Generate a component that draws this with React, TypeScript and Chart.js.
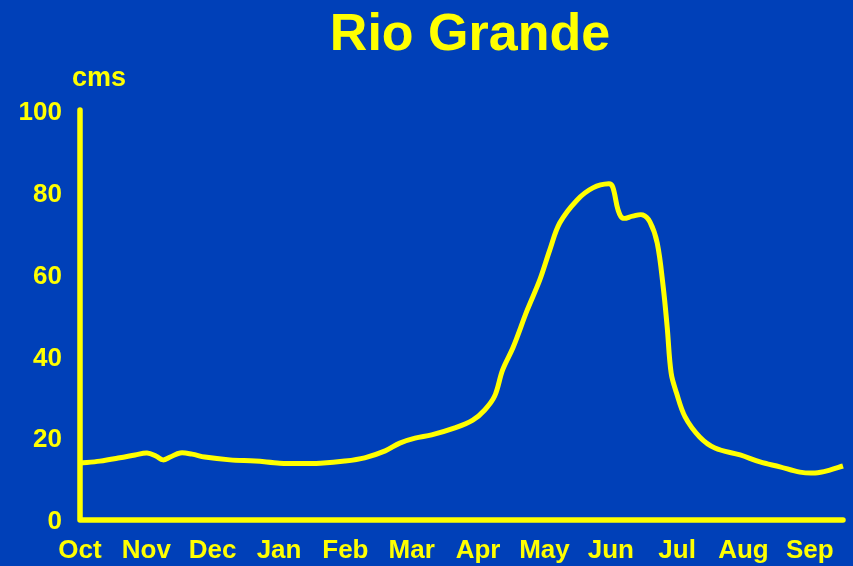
import React, { useEffect, useRef } from "react";
import { Chart, registerables } from "chart.js";

Chart.register(...registerables);

const TITLE = "Rio Grande";
const UNIT_LABEL = "cms";
const MONTHS = ["Oct", "Nov", "Dec", "Jan", "Feb", "Mar", "Apr", "May", "Jun", "Jul", "Aug", "Sep"];
const Y_TICKS = [0, 20, 40, 60, 80, 100];

// position along the water year, in months from the start of October
const FLOW_T = [
  0, 0.3, 0.6, 0.83, 1.01, 1.15, 1.25, 1.36, 1.51, 1.69, 1.88, 2.26, 2.64, 3.01, 3.32, 3.62, 3.99,
  4.29, 4.6, 4.82, 5.05, 5.3, 5.65, 5.92, 6.1, 6.25, 6.37, 6.53, 6.74, 6.93, 7.08, 7.23, 7.49,
  7.73, 7.97, 8.03, 8.11, 8.18, 8.33, 8.48, 8.59, 8.7, 8.79, 8.85, 8.91, 8.99, 9.12, 9.34, 9.57,
  9.95, 10.25, 10.55, 10.85, 11.08, 11.3, 11.5,
];
// discharge in cms
const FLOW_CMS = [
  13.9, 14.4, 15.2, 15.9, 16.4, 15.6, 14.7, 15.4, 16.4, 16.1, 15.4, 14.7, 14.4, 13.9, 13.8, 13.9, 14.4,
  15.2, 16.9, 18.8, 20.0, 20.8, 22.5, 24.4, 26.9, 30.3, 36.7, 42.3, 51.3, 58.7, 66.0, 72.6, 78.2,
  81.2, 82.2, 81.4, 75.8, 73.8, 74.3, 74.6, 72.9, 67.7, 57.0, 47.2, 35.9, 31.1, 25.2, 20.3, 17.6,
  15.9, 14.2, 13.0, 11.7, 11.5, 12.2, 13.2,
];

const BG = "#0040B8";
const FG = "#FFFF00";
const FONT = "'Liberation Sans', Arial, Helvetica, sans-serif";

export default function App() {
  const ref = useRef<HTMLCanvasElement | null>(null);

  useEffect(() => {
    const canvas = ref.current;
    if (!canvas) return;

    const decor = {
      id: "decor",
      beforeDatasetsDraw(chart: any) {
        const { ctx } = chart;
        const xs = chart.scales.x;
        const ys = chart.scales.y;
        const x0 = xs.getPixelForValue(0);
        const x1 = xs.getPixelForValue(11.5);
        const yTop = ys.getPixelForValue(100) - 1;
        const yBot = ys.getPixelForValue(0);
        ctx.save();
        ctx.strokeStyle = FG;
        ctx.lineWidth = 5.5;
        ctx.lineCap = "round";
        ctx.lineJoin = "round";
        ctx.beginPath();
        ctx.moveTo(x0, yTop);
        ctx.lineTo(x0, yBot);
        ctx.lineTo(x1, yBot);
        ctx.stroke();
        ctx.restore();
      },
      afterDraw(chart: any) {
        const { ctx } = chart;
        ctx.save();
        ctx.fillStyle = FG;
        ctx.textBaseline = "alphabetic";
        ctx.textAlign = "center";
        ctx.font = `bold 52px ${FONT}`;
        ctx.fillText(TITLE, 470, 50);
        ctx.textAlign = "left";
        ctx.font = `bold 27px ${FONT}`;
        ctx.fillText(UNIT_LABEL, 72, 86);
        ctx.restore();
      },
    };

    const chart = new Chart(canvas, {
      type: "line",
      data: {
        datasets: [
          {
            data: FLOW_T.map((t, i) => ({ x: t, y: FLOW_CMS[i] })),
            borderColor: FG,
            borderWidth: 5,
            pointRadius: 0,
            tension: 0.35,
            fill: false,
            clip: false as any,
          },
        ],
      },
      options: {
        responsive: false,
        animation: false,
        layout: { padding: { top: 111, right: 10, left: 0, bottom: 0 } },
        plugins: { legend: { display: false }, title: { display: false }, tooltip: { enabled: false } },
        scales: {
          x: {
            type: "linear",
            min: 0,
            max: 11.5,
            grid: { display: false, drawTicks: false },
            border: { display: false },
            afterFit: (s: any) => {
              s.height = 46;
            },
            afterBuildTicks: (s: any) => {
              s.ticks = MONTHS.map((_, i) => ({ value: i }));
            },
            ticks: {
              color: FG,
              font: { family: FONT, size: 26, weight: "bold" },
              padding: 15,
              autoSkip: false,
              maxRotation: 0,
              callback: (v: any) => MONTHS[Math.round(Number(v))] ?? "",
            },
          },
          y: {
            min: 0,
            max: 100,
            grid: { display: false, drawTicks: false },
            border: { display: false },
            afterFit: (s: any) => {
              s.width = 80;
            },
            afterBuildTicks: (s: any) => {
              s.ticks = Y_TICKS.map((v) => ({ value: v }));
            },
            ticks: {
              color: FG,
              font: { family: FONT, size: 26, weight: "bold" },
              padding: 18,
              labelOffset: 2,
            },
          },
        },
      },
      plugins: [decor],
    } as any);

    return () => chart.destroy();
  }, []);

  return (
    <div style={{ position: "fixed", left: 0, top: 0, width: 853, height: 566, background: BG }}>
      <canvas ref={ref} width={853} height={566} style={{ display: "block" }} />
    </div>
  );
}
